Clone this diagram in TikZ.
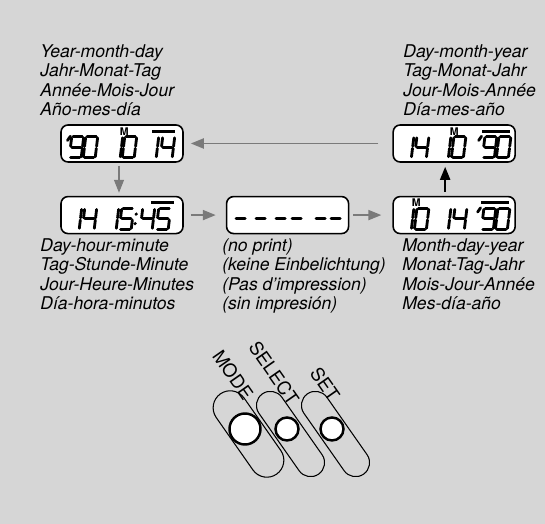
\documentclass[tikz,border=0pt]{standalone}
\usepackage{fontspec}
\setmainfont{TeX Gyre Heros}
\usetikzlibrary{arrows.meta,calc,positioning}
\definecolor{Screen}{HTML}{D6D6D6}
\definecolor{Halftone}{HTML}{7A7A7A}

% lcd segments, cell is 1 wide and 2 high
\newcommand\sega{(.12,2)--(.88,2)}
\newcommand\segb{(1,1.9)--(1,1.1)}
\newcommand\segc{(1,.9)--(1,.1)}
\newcommand\segd{(.12,0)--(.88,0)}
\newcommand\sege{(0,.1)--(0,.9)}
\newcommand\segf{(0,1.1)--(0,1.9)}
\newcommand\segg{(.12,1)--(.88,1)}
\newcommand\lcdsegs[1]{\foreach \s in {#1}{\draw[lcd] \csname seg\s\endcsname;}}

\tikzset{
  lcd/.style={line width=1.6pt, line cap=round},
  lcdcell/.style={x=.24cm, y=.21cm, xslant=.12},
  pics/d0/.style={code={\begin{scope}[lcdcell]\lcdsegs{a,b,c,d,e,f}\end{scope}}},
  pics/d1/.style={code={\begin{scope}[lcdcell]\lcdsegs{b,c}\end{scope}}},
  pics/d4/.style={code={\begin{scope}[lcdcell]\lcdsegs{b,c,f,g}\end{scope}}},
  pics/d5/.style={code={\begin{scope}[lcdcell]\lcdsegs{a,c,d,f,g}\end{scope}}},
  pics/d9/.style={code={\begin{scope}[lcdcell]\lcdsegs{a,b,c,d,f,g}\end{scope}}},
  pics/dminus/.style={code={\begin{scope}[lcdcell]\lcdsegs{g}\end{scope}}},
  pics/dtick/.style={code={\begin{scope}[lcdcell]\draw[lcd] (.3,2.05)--(.1,1.65);\end{scope}}},
  pics/dcolon/.style={code={\begin{scope}[lcdcell]
      \fill (.1,.55) circle (1pt); \fill (.1,1.45) circle (1pt);\end{scope}}},
  lcdbox/.style={draw, line width=.9pt, rounded corners=4pt, fill=white,
    minimum width=2.44cm, minimum height=.74cm, inner sep=0pt},
  lcdbar/.style={line width=1.6pt},
  month/.style={inner sep=0pt, font=\bfseries\fontsize{6}{6}\selectfont},
  caption/.style={anchor=north west, inner sep=0pt, align=left,
    font=\fontsize{10}{11.1}\selectfont\itshape},
  grayarrow/.style={draw=Halftone, line width=1.1pt,
    -{Triangle[length=2.6mm,width=2mm,fill=Halftone]}},
  blackarrow/.style={draw=black, line width=1.1pt,
    -{Triangle[length=2.6mm,width=2mm]}},
  slot/.style={draw, line width=.6pt, rotate=-55, minimum width=1.96cm, inner sep=0pt},
  key/.style={circle, draw, line width=1.4pt, fill=white, inner sep=0pt},
  keylabel/.style={inner sep=0pt, rotate=-55, font=\fontsize{10.5}{12}\selectfont},
}

\begin{document}
\begin{tikzpicture}
  \useasboundingbox (0,0) rectangle (10.9,10.48);
  \fill[Screen] (0,0) rectangle (10.9,10.48);

  % displays
  \node[lcdbox] (b1) at (2.44,7.61) {};
  \node[lcdbox, below=.66cm of b1] (b2) {};
  \node[lcdbox, right=.84cm of b2] (b3) {};
  \node[lcdbox, right=.86cm of b3] (b4) {};
  \node[lcdbox, above=.66cm of b4] (b5) {};

  % '90 10 14
  \pic at ($(b1.south west)+(.08,.1)$) {dtick};
  \pic at ($(b1.south west)+(.18,.1)$) {d9};
  \pic at ($(b1.south west)+(.46,.1)$) {d0};
  \pic at ($(b1.south west)+(.96,.1)$) {d1};
  \pic at ($(b1.south west)+(1.24,.1)$) {d0};
  \node[month] (m1) at ($(b1.south west)+(1.28,.63)$) {M};
  \pic at ($(b1.south west)+(1.68,.1)$) {d1};
  \pic at ($(b1.south west)+(2.00,.1)$) {d4};
  \draw[lcdbar] ($(b1.south west)+(1.84,.63)$) -- +(.46,0);

  % 14 15:45
  \pic at ($(b2.south west)+(.14,.1)$) {d1};
  \pic at ($(b2.south west)+(.44,.1)$) {d4};
  \pic at ($(b2.south west)+(.88,.1)$) {d1};
  \pic at ($(b2.south west)+(1.18,.1)$) {d5};
  \pic at ($(b2.south west)+(1.46,.1)$) {dcolon};
  \pic at ($(b2.south west)+(1.60,.1)$) {d4};
  \pic at ($(b2.south west)+(1.92,.1)$) {d5};
  \draw[lcdbar] ($(b2.south west)+(1.82,.63)$) -- +(.46,0);

  % - - - - - -
  \foreach \x in {.15,.55,.95,1.27,1.75,2.05}
    \pic at ($(b3.south west)+(\x,.1)$) {dminus};

  % 10 14'90
  \pic at ($(b4.south west)+(.14,.1)$) {d1};
  \pic at ($(b4.south west)+(.44,.1)$) {d0};
  \node[month] (m4) at ($(b4.south west)+(.48,.63)$) {M};
  \pic at ($(b4.south west)+(.88,.1)$) {d1};
  \pic at ($(b4.south west)+(1.20,.1)$) {d4};
  \pic at ($(b4.south west)+(1.64,.1)$) {dtick};
  \pic at ($(b4.south west)+(1.78,.1)$) {d9};
  \pic at ($(b4.south west)+(2.06,.1)$) {d0};
  \draw[lcdbar] ($(b4.south west)+(1.78,.63)$) -- +(.56,0);

  % 14 10'90
  \pic at ($(b5.south west)+(.14,.1)$) {d1};
  \pic at ($(b5.south west)+(.44,.1)$) {d4};
  \pic at ($(b5.south west)+(.88,.1)$) {d1};
  \pic at ($(b5.south west)+(1.18,.1)$) {d0};
  \node[month] (m5) at ($(b5.south west)+(1.24,.63)$) {M};
  \pic at ($(b5.south west)+(1.66,.1)$) {dtick};
  \pic at ($(b5.south west)+(1.80,.1)$) {d9};
  \pic at ($(b5.south west)+(2.08,.1)$) {d0};
  \draw[lcdbar] ($(b5.south west)+(1.80,.63)$) -- +(.56,0);

  % cycle of formats
  \draw[grayarrow] ([xshift=-.28cm]b5.west) -- ([xshift=.14cm]b1.east);
  \draw[grayarrow, line width=.6pt] ([xshift=-.06cm,yshift=-.06cm]b1.south)
    -- ([xshift=-.06cm,yshift=.06cm]b2.north);
  \draw[grayarrow] ([xshift=.14cm]b2.east) -- ([xshift=-.2cm]b3.west);
  \draw[grayarrow] ([xshift=.08cm]b3.east) -- ([xshift=-.22cm]b4.west);
  \draw[blackarrow] ([xshift=-.18cm,yshift=.08cm]b4.north)
    -- ([xshift=-.18cm,yshift=-.08cm]b5.south);

  % captions
  \node[caption] (ymd) at (.8,9.6)
    {Year-month-day\\Jahr-Monat-Tag\\Année-Mois-Jour\\Año-mes-día};
  \node[caption] (dmy) at (8.06,9.6)
    {Day-month-year\\Tag-Monat-Jahr\\Jour-Mois-Année\\Día-mes-año};
  \node[caption] (dhm) at (.8,5.72)
    {Day-hour-minute\\Tag-Stunde-Minute\\Jour-Heure-Minutes\\Día-hora-minutos};
  \node[caption] (noprint) at (4.44,5.72)
    {(no print)\\(keine Einbelichtung)\\(Pas d’impression)\\(sin impresión)};
  \node[caption] (mdy) at (8.04,5.72)
    {Month-day-year\\Monat-Tag-Jahr\\Mois-Jour-Année\\Mes-día-año};

  % keys
  \node[slot, minimum height=.68cm, rounded corners=.34cm] (modeslot) at (4.97,1.80) {};
  \node[slot, minimum height=.56cm, rounded corners=.28cm] (selslot) at (5.81,1.80) {};
  \node[slot, minimum height=.56cm, rounded corners=.28cm] (setslot) at (6.71,1.80) {};
  \node[key, minimum size=.62cm] (mode) at (4.9,1.9) {};
  \node[key, minimum size=.46cm] (select) at (5.74,1.9) {};
  \node[key, minimum size=.46cm] (set) at (6.64,1.9) {};
  \node[keylabel] (modelbl) at (4.66,2.98) {MODE};
  \node[keylabel] (sellbl) at (5.48,3.02) {SELECT};
  \node[keylabel] (setlbl) at (6.50,2.80) {SET};
\end{tikzpicture}
\end{document}
